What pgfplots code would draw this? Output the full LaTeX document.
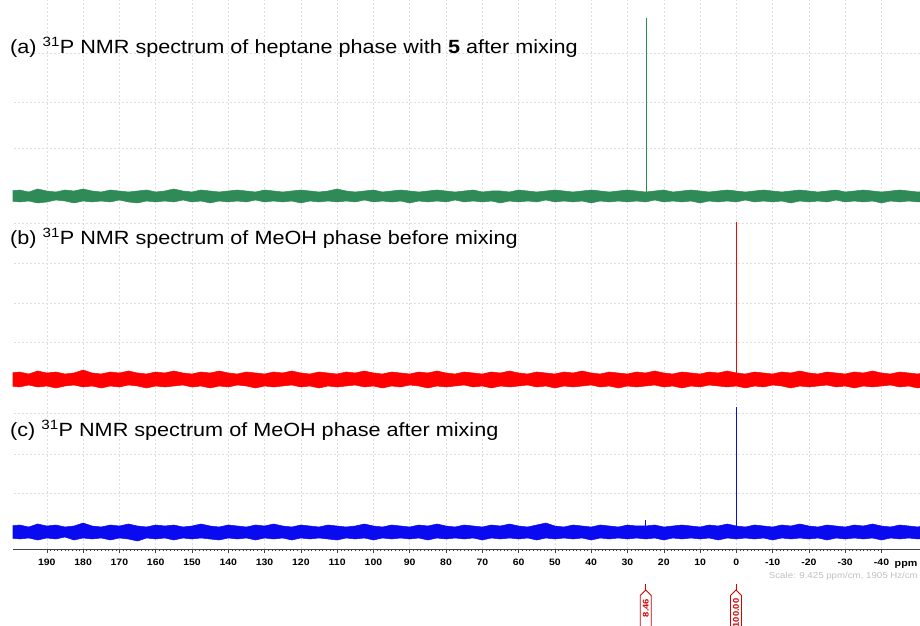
\documentclass[border=0pt]{standalone}
\usepackage{fontspec}
\setmainfont{Liberation Sans}[FakeStretch=1.13]
\usepackage{pgfplots}
\pgfplotsset{compat=1.18}
\usepackage{pgfplotstable}
\usepgfplotslibrary{fillbetween}
\definecolor{cgreen}{RGB}{46,139,87}
\definecolor{cred}{RGB}{255,0,0}
\definecolor{cblue}{RGB}{10,10,240}
\definecolor{cint}{RGB}{210,0,0}
\definecolor{cgrid}{RGB}{222,222,222}

% x: ppm ; gu/gl green band upper/lower ; ru/rl red ; bu/bl blue (y in picture units)
\pgfplotstableread{
x gu gl ru rl bu bl
200 435 425 253 240 100 88
197.5 436 424 254 239 101 87
195 434 425 252 241 99 88
192.5 437 423 255 239 102 86
190 435 424 253 240 100 88
187.5 434 426 254 238 101 87
185 436 425 252 240 99 89
182.5 435 423 253 241 100 86
180 437 425 256 239 103 88
177.5 435 424 253 240 100 87
175 434 425 252 238 99 88
172.5 436 424 254 240 101 86
170 435 426 253 239 100 88
167.5 434 424 255 241 102 87
165 435 423 253 240 100 85
162.5 436 425 252 238 99 88
160 434 424 254 240 101 87
157.5 435 425 253 239 100 88
155 437 424 255 240 101 86
152.5 435 426 253 241 99 88
150 434 424 252 239 100 87
147.5 436 425 254 240 102 88
145 435 423 253 238 100 87
142.5 434 425 255 240 99 86
140 435 424 253 239 101 88
137.5 436 425 252 241 100 87
135 435 424 254 240 99 88
132.5 434 426 253 238 101 86
130 436 424 252 240 100 88
127.5 435 425 254 239 102 87
125 434 424 253 240 100 88
122.5 435 425 255 241 99 86
120 436 423 253 239 101 88
117.5 435 425 252 240 100 87
115 434 424 254 238 99 88
112.5 435 425 253 240 101 87
110 437 424 252 239 100 86
107.5 435 425 254 240 99 88
105 434 424 253 241 100 87
102.5 435 426 255 239 102 88
100 436 424 253 240 100 86
97.5 434 425 252 238 99 88
95 435 424 254 240 101 87
92.5 436 425 253 239 100 88
90 435 423 252 241 99 87
87.5 434 425 254 240 101 88
85 435 424 253 238 100 86
82.5 436 425 255 240 102 88
80 435 424 253 239 100 87
77.5 434 426 252 240 99 88
75 435 424 254 241 101 87
72.5 436 425 253 239 100 88
70 434 424 252 240 99 86
67.5 435 425 254 238 101 88
65 435 423 253 240 100 87
62.5 434 425 255 239 102 88
60 436 424 253 240 100 87
57.5 435 425 252 241 99 88
55 434 424 254 239 101 86
52.5 435 426 253 240 103 88
50 436 424 252 238 100 87
47.5 435 425 254 240 99 88
45 434 424 253 239 101 87
42.5 435 425 255 240 100 88
40 436 423 253 241 99 86
37.5 435 425 252 239 101 88
35 434 424 254 240 100 87
32.5 435 425 253 238 99 88
30 436 424 252 240 101 87
27.5 435 425 254 239 100 88
25 434 424 253 240 100 87
22.5 435 426 255 241 101 88
20 436 424 253 239 99 86
17.5 434 425 252 240 100 88
15 435 424 254 238 101 87
12.5 436 425 253 240 100 88
10 435 423 252 239 99 87
7.5 434 425 254 241 101 88
5 435 424 253 240 100 86
2.5 436 425 255 239 102 88
0 435 424 253 240 100 87
-2.5 434 426 252 238 99 88
-5 435 424 254 240 101 87
-7.5 436 425 253 239 100 88
-10 435 424 252 241 99 86
-12.5 434 425 254 240 101 88
-15 435 423 253 238 100 87
-17.5 436 425 255 240 102 88
-20 435 424 253 239 100 87
-22.5 434 425 252 240 99 88
-25 435 424 254 241 101 86
-27.5 436 426 253 239 100 88
-30 434 424 252 240 99 87
-32.5 435 425 254 238 101 88
-35 436 424 253 240 100 87
-37.5 435 425 255 239 102 88
-40 434 423 253 240 100 86
-42.5 435 425 252 241 99 88
-45 436 424 254 239 101 87
-47.5 435 425 253 240 100 88
-50 434 424 252 238 99 87
-52.5 435 425 254 240 101 88
}\noise

\begin{document}
\begin{tikzpicture}
\begin{axis}[
  at={(12.7bp,77bp)}, anchor=south west,
  scale only axis, width=907.3bp, height=549bp,
  xmin=-50.6, xmax=199.4, ymin=77, ymax=626,
  x dir=reverse,
  axis x line*=bottom, axis y line*=left,
  x axis line style={-, draw=black!75, line width=0.6bp},
  y axis line style={draw=none},
  xtick={-40,-30,...,190},
  minor x tick num=9,
  tick align=outside,
  major tick length=4bp, minor tick length=2bp,
  x tick style={black!75, line width=0.5bp},
  ytick={133,172,213,284,323,363,403,478,524,573},
  yticklabels={}, ytick style={draw=none},
  xmajorgrids, ymajorgrids,
  major grid style={cgrid, dash pattern=on 2bp off 2bp, line width=0.5bp},
  /pgf/number format/assume math mode=true,
  xticklabel style={font=\bfseries\fontsize{9.3}{10}\selectfont, yshift=-3bp},
  clip=true,
]
\addplot[cgreen, line width=0.5bp, miter limit=20, name path=gu] table[x=x, y=gu] {\noise};
\addplot[cgreen, line width=0.5bp, miter limit=20, name path=gl] table[x=x, y=gl] {\noise};
\addplot[cgreen] fill between[of=gu and gl];
\addplot[cgreen, line width=1bp] coordinates {(24.9,430) (24.9,608)};

\addplot[cred, line width=0.5bp, name path=ru] table[x=x, y=ru] {\noise};
\addplot[cred, line width=0.5bp, name path=rl] table[x=x, y=rl] {\noise};
\addplot[cred] fill between[of=ru and rl];
\addplot[cred, line width=1bp] coordinates {(0,246) (0,404)};

\addplot[cblue, line width=0.5bp, name path=bu] table[x=x, y=bu] {\noise};
\addplot[cblue, line width=0.5bp, name path=bl] table[x=x, y=bl] {\noise};
\addplot[cblue] fill between[of=bu and bl];
\addplot[cblue, line width=1bp] coordinates {(0,94) (0,219)};
\addplot[cblue, line width=0.8bp] coordinates {(25,94) (25,106)};
\end{axis}

% labels
\node[anchor=base west, inner sep=0, font=\fontsize{19.2}{22}\selectfont] at (10bp,572bp)
  {(a) \textsuperscript{31}P NMR spectrum of heptane phase with \textbf{5} after mixing};
\node[anchor=base west, inner sep=0, font=\fontsize{19.2}{22}\selectfont] at (10bp,381bp)
  {(b) \textsuperscript{31}P NMR spectrum of MeOH phase before mixing};
\node[anchor=base west, inner sep=0, font=\fontsize{19.2}{22}\selectfont] at (10bp,189bp)
  {(c) \textsuperscript{31}P NMR spectrum of MeOH phase after mixing};

\node[anchor=base, inner sep=0, font=\bfseries\fontsize{9.5}{10}\selectfont] at (906bp,59bp) {ppm};
\node[anchor=base east, inner sep=0, text=black!25, font=\fontsize{8.6}{9}\selectfont] at (918bp,47bp)
  {Scale: 9.425 ppm/cm, 1905 Hz/cm};

% integration markers
\foreach \xx in {645.7, 736}{
  \draw[cint, line width=1bp] (\xx bp,42bp) -- (\xx bp,36bp);
  \draw[cint, line width=0.9bp] (\xx bp - 5.5bp,0bp) -- (\xx bp - 5.5bp,30.5bp) -- (\xx bp,36bp)
     -- (\xx bp + 5.5bp,30.5bp) -- (\xx bp + 5.5bp,0bp);
}
\node[rotate=90, inner sep=0, text=cint, font=\bfseries\fontsize{8.3}{9}\selectfont] at (645.7bp,18bp) {8.46};
\node[rotate=90, inner sep=0, text=cint, font=\bfseries\fontsize{8.3}{9}\selectfont] at (736bp,13bp) {100.00};

\pgfresetboundingbox
\path[use as bounding box] (0,0) rectangle (920bp,626bp);
\end{tikzpicture}
\end{document}
